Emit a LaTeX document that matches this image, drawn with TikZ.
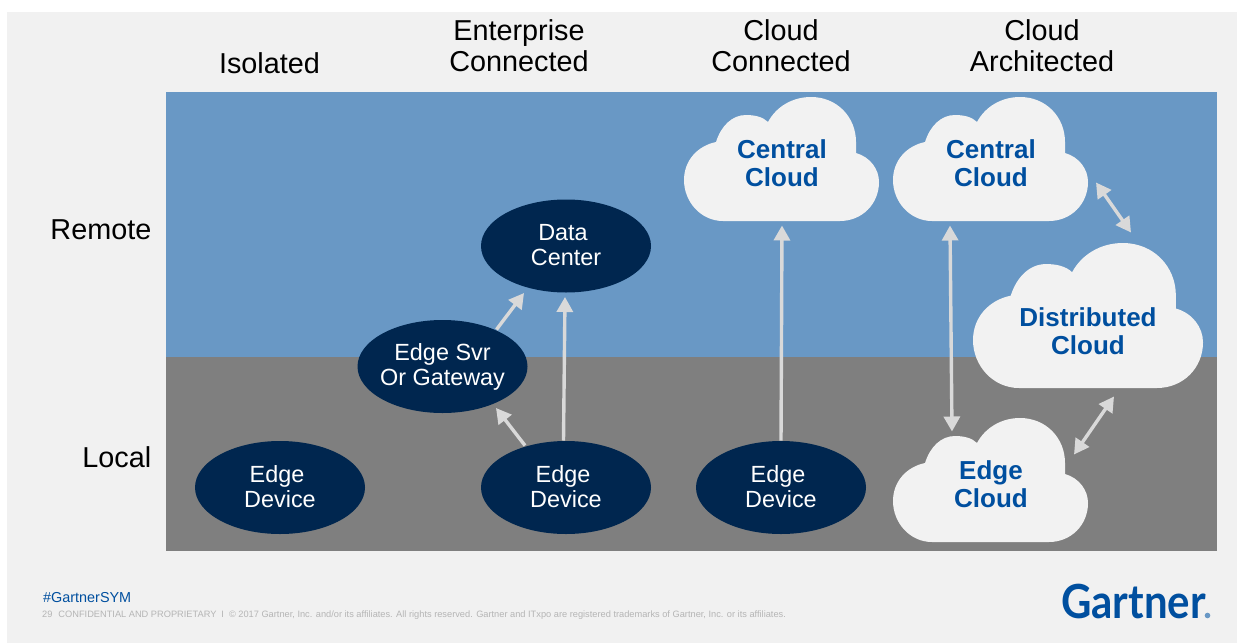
\documentclass[tikz,border=0pt]{standalone}
\usepackage{fontspec}
\setmainfont{Liberation Sans}
\newfontfamily\logofont{Lato}
\usetikzlibrary{arrows.meta,calc,shapes.geometric}
\definecolor{slide}{HTML}{F1F1F1}
\definecolor{remoteblue}{HTML}{6998C5}
\definecolor{localgray}{HTML}{7F7F7F}
\definecolor{navy}{HTML}{00264F}
\definecolor{cloudfill}{HTML}{F2F2F2}
\definecolor{gblue}{HTML}{004F9F}
\definecolor{arrowgray}{HTML}{D9D9D9}
\definecolor{footgray}{HTML}{B5B5B5}
\tikzset{
  head/.style={font=\fontsize{28.8}{31}\selectfont,align=center,text=black,inner sep=0pt},
  device/.style={ellipse,fill=navy,text=white,align=center,inner sep=0pt,minimum width=170pt,minimum height=93pt,font=\fontsize{23.4}{25}\selectfont},
  cloudtxt/.style={align=center,text=gblue,inner sep=0pt,font=\fontsize{26}{28}\selectfont\bfseries},
  link/.style={draw=arrowgray,line width=3.4pt,-{Triangle[length=15pt,width=16pt]}},
  dlink/.style={draw=arrowgray,line width=3.4pt,{Triangle[length=15pt,width=16pt]}-{Triangle[length=15pt,width=16pt]}},
}
% cloud outline in a 195 x 124 box
\newcommand{\cloudshape}[4]{%
  \fill[cloudfill,shift={(#1,#2)},xscale=#3/195,yscale=#4/124]
    (39,124) .. controls (17,124) and (0,105) .. (0,83)
    .. controls (0,64) and (13,49) .. (32,45)
    .. controls (37,29) and (48,18) .. (62,18)
    .. controls (71,18) and (79,20) .. (84,25)
    .. controls (92,10) and (108,0) .. (127,0)
    .. controls (153,0) and (172,20) .. (172,45)
    .. controls (172,49) and (172,52) .. (172,56)
    .. controls (186,60) and (195,72) .. (195,85)
    .. controls (195,107) and (178,124) .. (156,124) -- cycle;}
\newcommand{\shortline}[1]{#1\hspace*{6pt}}
\newcommand{\lowline}[1]{#1\rule[-2pt]{0pt}{1pt}}
\begin{document}
\begin{tikzpicture}[x=1pt,y=-1pt]
\useasboundingbox (0,0) rectangle (1244,643);
\fill[white] (0,0) rectangle (1244,643);
\fill[slide] (7,12) rectangle (1237,643);
\fill[remoteblue] (166,92) rectangle (1217,357);
\fill[localgray] (166,357) rectangle (1217,551);
% column heads
\node[head] (hIso) at (269.5,63) {Isolated};
\node[head] (hEnt) at (519,46) {Enterprise\\Connected};
\node[head] (hCon) at (781,46) {Cloud\\Connected};
\node[head] (hArc) at (1042,46) {Cloud\\Architected};
\node[head,anchor=east] (rRem) at (151.5,230) {Remote};
\node[head,anchor=east] (rLoc) at (151.5,457.5) {Local};
% clouds
\cloudshape{684}{97}{195}{124}
\cloudshape{893}{97}{195}{124}
\cloudshape{973}{243}{230}{145}
\cloudshape{893}{418}{195}{124}
\node[cloudtxt] (cc) at (782,163.5) {Central\\Cloud};
\node[cloudtxt] (ca) at (991,163.5) {Central\\Cloud};
\node[cloudtxt] (dc) at (1088,331.5) {Distributed\\Cloud};
\node[cloudtxt] (ec) at (991,484.5) {Edge\\Cloud};
% ellipses
\node[device] (e1) at (280,487.5) {\shortline{Edge}\\\lowline{Device}};
\node[device] (e2) at (566,487.5) {\shortline{Edge}\\\lowline{Device}};
\node[device] (e3) at (781,487.5) {\shortline{Edge}\\\lowline{Device}};
\node[device] (data) at (566,246) {\shortline{Data}\\\lowline{Center}};
\node[device] (svr) at (442.5,366.5) {\makebox[100pt]{Edge Svr}\\\makebox[100pt]{Or Gateway}};
% connectors
\draw[link] ($(svr.center)+(54,-37)$) -- ($(data.center)+(-42,47)$);
\draw[link] ($(e2.center)+(-2.5,-47)$) -- ($(data.center)+(-1,51)$);
\draw[link] ($(e2.center)+(-41,-42)$) -- ($(svr.center)+(53.5,41.5)$);
\draw[link] ($(e3.center)+(0,-47)$) -- ($(cc.center)+(0,62)$);
\draw[dlink] ($(ca.center)+(-41,62)$) -- ($(ec.center)+(-39,-53)$);
\draw[dlink] ($(ca.center)+(105,19)$) -- ($(dc.center)+(43,-99)$);
\draw[dlink] ($(ec.center)+(83,-30)$) -- ($(dc.center)+(26,65)$);
% footer
\node[anchor=west,text=gblue,inner sep=0pt,font=\fontsize{14.4}{16}\selectfont] (tag) at (43,598) {\#GartnerSYM};
\node[anchor=west,text=footgray,inner sep=0pt,font=\fontsize{9.25}{11}\selectfont] (foot) at (42,615) {29\hspace{6pt}CONFIDENTIAL AND PROPRIETARY\hspace{5pt}I\hspace{5pt}© 2017 Gartner, Inc. and/or its affiliates. All rights reserved. Gartner and ITxpo are registered trademarks of Gartner, Inc. or its affiliates.};
\node[anchor=base west,text=gblue,inner sep=0pt,font=\fontsize{47}{48}\selectfont\logofont\bfseries] (logo) at (1061,618.5) {\scalebox{0.893}[1]{Gartner}};
\fill[remoteblue] (1207.5,615.5) circle (2.8);
\end{tikzpicture}
\end{document}
